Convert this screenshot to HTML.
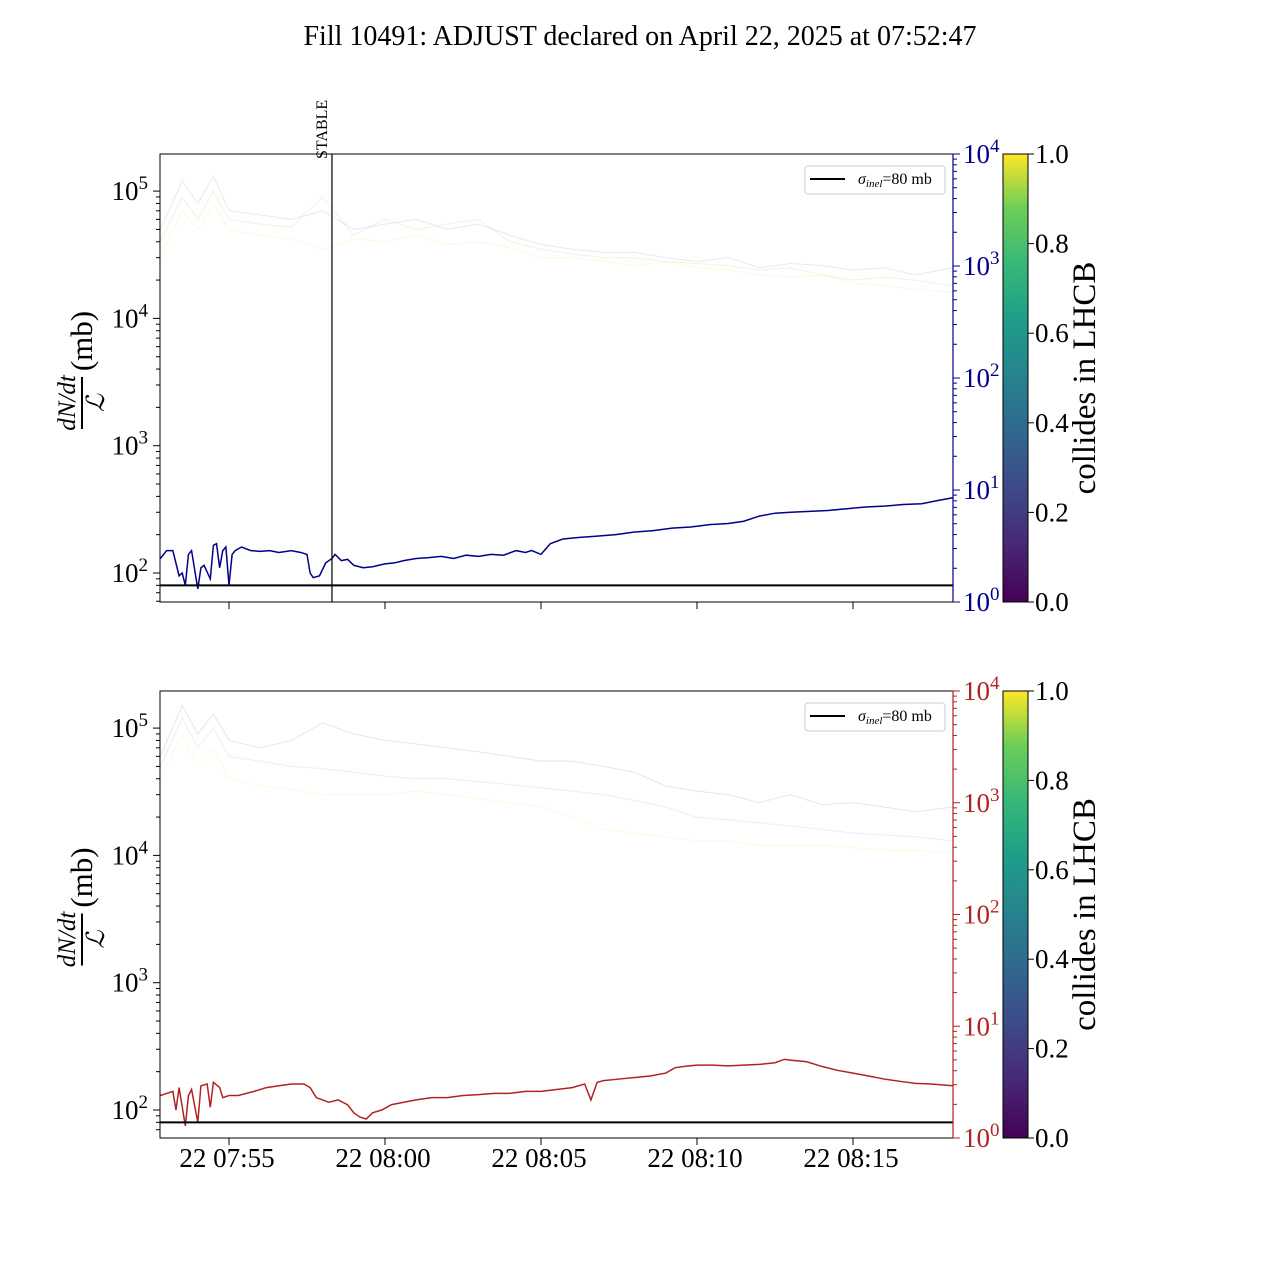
<!DOCTYPE html>
<html><head><meta charset="utf-8"><style>
body{margin:0;background:#fff;}
svg text{font-family:"Liberation Serif",serif;}
</style></head><body>
<svg id="c" width="1280" height="1280" xmlns="http://www.w3.org/2000/svg">
<defs><linearGradient id="vir" x1="0" y1="1" x2="0" y2="0">
<stop offset="0" stop-color="#440154"/><stop offset="0.13" stop-color="#482878"/><stop offset="0.25" stop-color="#3e4989"/><stop offset="0.38" stop-color="#31688e"/><stop offset="0.5" stop-color="#26828e"/><stop offset="0.63" stop-color="#1f9e89"/><stop offset="0.75" stop-color="#35b779"/><stop offset="0.88" stop-color="#6ece58"/><stop offset="1" stop-color="#fde725"/></linearGradient></defs>
<text x="640" y="45" font-size="28" text-anchor="middle">Fill 10491: ADJUST declared on April 22, 2025 at 07:52:47</text>
</svg>
<script>
const blueT=[-2.2,-2.0,-1.8,-1.6,-1.5,-1.4,-1.3,-1.2,-1.0,-0.9,-0.8,-0.6,-0.5,-0.4,-0.3,-0.2,-0.1,0.0,0.1,0.2,0.4,0.7,1.0,1.3,1.6,2.0,2.3,2.5,2.6,2.7,2.9,3.1,3.3,3.4,3.6,3.8,4.0,4.3,4.6,5.0,5.3,5.6,6.0,6.4,6.8,7.2,7.6,8.0,8.4,8.8,9.2,9.5,9.7,10.0,10.3,10.7,11.2,11.8,12.4,13.0,13.6,14.2,14.8,15.4,16.0,16.5,17.0,17.5,18.0,18.6,19.2,19.8,20.4,21.0,21.6,22.2,22.7,23.2];
const blueV=[130,150,150,95,100,80,140,150,75,110,115,90,165,170,110,150,160,80,140,150,160,150,148,150,145,150,145,140,100,92,95,120,130,140,125,128,115,110,112,118,120,125,130,132,135,130,138,135,140,138,150,145,150,140,170,185,190,195,200,210,215,225,230,240,245,255,280,295,300,305,310,320,330,335,345,350,370,390];
const redT=[-2.2,-2.0,-1.8,-1.7,-1.6,-1.4,-1.3,-1.2,-1.0,-0.9,-0.7,-0.6,-0.5,-0.3,-0.2,0.0,0.3,0.8,1.2,1.6,2.0,2.4,2.5,2.6,2.8,3.0,3.2,3.5,3.8,4.0,4.2,4.4,4.6,4.9,5.2,5.6,6.0,6.5,7.0,7.5,8.0,8.5,9.0,9.5,10.0,10.5,11.0,11.4,11.6,11.8,12.0,12.5,13.0,13.5,14.0,14.3,14.6,15.0,15.5,16.0,16.5,17.0,17.5,17.8,18.1,18.5,19.0,19.5,20.0,20.5,21.0,21.5,22.0,22.5,23.2];
const redV=[130,135,140,100,150,75,130,145,80,155,160,105,165,150,125,130,130,140,150,155,160,160,155,150,125,120,115,120,110,95,88,85,95,100,110,115,120,125,125,130,132,135,135,140,140,145,150,160,120,165,170,175,180,185,195,215,220,225,225,222,225,228,235,250,245,240,220,205,195,185,175,168,162,160,155];
const faintT=[-2.2,-1.5,-1,-0.5,0,1,2,3,4,5,6,7,8,9,10,11,12,13,14,15,16,17,18,19,20,21,22,23.2];
const topF1=[50000,120000,80000,130000,70000,65000,60000,70000,50000,55000,60000,50000,55000,45000,38000,35000,33000,33000,30000,28000,30000,25000,27000,26000,24000,25000,22000,25000];
const topF2=[40000,90000,60000,100000,60000,55000,52000,90000,45000,60000,50000,55000,60000,40000,35000,32000,30000,30000,28000,27000,26000,24000,25000,22000,20000,21000,20000,18000];
const topF3=[30000,70000,50000,80000,50000,45000,42000,35000,42000,40000,45000,38000,40000,36000,30000,30000,28000,26000,28000,25000,24000,22000,21000,22000,19000,18000,17000,16000];
const botF1=[60000,150000,90000,130000,80000,70000,80000,110000,90000,80000,75000,70000,65000,60000,55000,55000,50000,45000,35000,32000,30000,26000,30000,25000,26000,24000,22000,24000];
const botF2=[50000,120000,70000,100000,60000,55000,50000,48000,45000,42000,40000,40000,38000,36000,34000,32000,30000,27000,24000,20000,19000,18000,17000,16000,15000,14500,14000,13000];
const botF3=[40000,90000,50000,70000,40000,35000,33000,30000,30000,30000,32000,30000,28000,26000,24000,20000,16000,15000,14000,13000,13000,12000,12000,12000,11500,11000,11000,10500];
const xTickT=[0,5,10,15,20];
const xTickL=["22 07:55","22 08:00","22 08:05","22 08:10","22 08:15"];
const cbTicks=[0,0.2,0.4,0.6,0.8,1.0];
const sigma=80, stableT=3.3;

const NS="http://www.w3.org/2000/svg", svg=document.getElementById('c');
const X0=160,X1=953;
function xs(t){return 229+t*31.2;}
function mk(tag,at,parent){const e=document.createElementNS(NS,tag);for(const k in at)e.setAttribute(k,at[k]);(parent||svg).appendChild(e);return e;}
function drawPanel(top,bot,col,lineT,lineV,faints,fcols,label){
  const bL=top+419, dec=127.3;
  const yl=v=>bL-(Math.log10(v)-2)*dec;
  const yr=v=>bot-Math.log10(v)*(bot-top)/4;
  const g=mk('g',{});
  
  
  faints.forEach((arr,i)=>{
    const p=mk('polyline',{points:faintT.map((t,j)=>xs(t)+','+yl(arr[j])).join(' '),fill:'none',stroke:fcols[i],'stroke-width':1,opacity:0.25},g);
    
    
  });
  const ln=mk('polyline',{points:lineT.map((t,j)=>xs(t)+','+yl(lineV[j])).join(' '),fill:'none',stroke:col,'stroke-width':1.5},g);
  
  
  const s=mk('line',{x1:X0,x2:X1,y1:yl(sigma),y2:yl(sigma),stroke:'#000','stroke-width':2},g);
  
  
  mk('rect',{x:X0,y:top,width:X1-X0,height:bot-top,fill:'none',stroke:'#000','stroke-width':1},g);
  mk('line',{x1:X1,x2:X1,y1:top,y2:bot,stroke:col,'stroke-width':1.2},g);
  for(let d=1;d<=5;d++)for(let m=1;m<10;m++){const v=m*Math.pow(10,d);const y=yl(v);if(y<top||y>bot)continue;
    mk('line',{x1:X0,x2:X0-(m==1?7:4),y1:y,y2:y,stroke:'#000'},g);
    if(m==1){const t=mk('text',{x:X0-12,y:y+9,'font-size':27,'text-anchor':'end'},g);t.innerHTML='10<tspan dy="-11" font-size="19">'+d+'</tspan>';
      }}
  for(let d=0;d<=4;d++)for(let m=1;m<10;m++){const v=m*Math.pow(10,d);const y=yr(v);if(y<top-0.5||y>bot+0.5)continue;
    mk('line',{x1:X1,x2:X1+(m==1?7:4),y1:y,y2:y,stroke:col},g);
    if(m==1){const t=mk('text',{x:X1+10,y:y+9,'font-size':27,fill:col},g);t.innerHTML='10<tspan dy="-11" font-size="19">'+d+'</tspan>';
      }}
  xTickT.forEach((t,i)=>{mk('line',{x1:xs(t),x2:xs(t),y1:bot,y2:bot+7,stroke:'#000'},g);
    if(label==='bottom'){const tx=mk('text',{x:xs(t)-2,y:bot+29,'font-size':27,'text-anchor':'middle'},g);tx.textContent=xTickL[i];
      }});
  const cy=(top+bot)/2+5;
  const yg=mk('g',{transform:`translate(82,${cy}) rotate(-90)`},g);
  
  mk('text',{x:-20,y:-7,'font-size':25,'font-style':'italic','text-anchor':'middle'},yg).textContent='dN/dt';
  mk('line',{x1:-46,x2:6,y1:0,y2:0,stroke:'#000','stroke-width':2},yg);
  mk('text',{x:-20,y:22,'font-size':25,'font-style':'italic','text-anchor':'middle'},yg).textContent='ℒ';
  mk('text',{x:42,y:10,'font-size':31,'text-anchor':'middle'},yg).textContent='(mb)';
  const lg=mk('g',{},g);
  mk('rect',{x:805,y:top+12,width:140,height:28,rx:3,fill:'#fff',stroke:'#ccc'},lg);
  mk('line',{x1:810,x2:845,y1:top+25,y2:top+25,stroke:'#000','stroke-width':2},lg);
  const lt=mk('text',{x:858,y:top+30,'font-size':16},lg);
  lt.innerHTML='<tspan font-style="italic">σ</tspan><tspan font-style="italic" font-size="11" dy="3">inel</tspan><tspan dy="-3">=80 mb</tspan>';
  const cb=mk('g',{},g);
  mk('rect',{x:1003,y:top,width:25,height:bot-top,fill:'url(#vir)',stroke:'#000'},cb);
  cbTicks.forEach(v=>{const y=bot-v*(bot-top);mk('line',{x1:1028,x2:1034,y1:y,y2:y,stroke:'#000'},cb);
    const t=mk('text',{x:1035,y:y+9,'font-size':27},cb);t.textContent=v.toFixed(1);});
  const cl=mk('text',{transform:`translate(1095,${(top+bot)/2}) rotate(-90)`,'font-size':33,'text-anchor':'middle'},cb);
  cl.textContent='collides in LHCB';
}
drawPanel(154,602,'#00008b',blueT,blueV,[topF1,topF2,topF3],['#b0a0d0','#e0c090','#f0e880'],'top');
drawPanel(691,1138,'#b22222',redT,redV,[botF1,botF2,botF3],['#a090c8','#c8b0e0','#f0f080'],'bottom');
const st=mk('line',{x1:xs(stableT),x2:xs(stableT),y1:154,y2:602,stroke:'#000','stroke-width':1.2});

const stt=mk('text',{transform:`translate(${xs(stableT)-5},159) rotate(-90)`,'font-size':16});
stt.textContent='STABLE';

</script>
</body></html>
